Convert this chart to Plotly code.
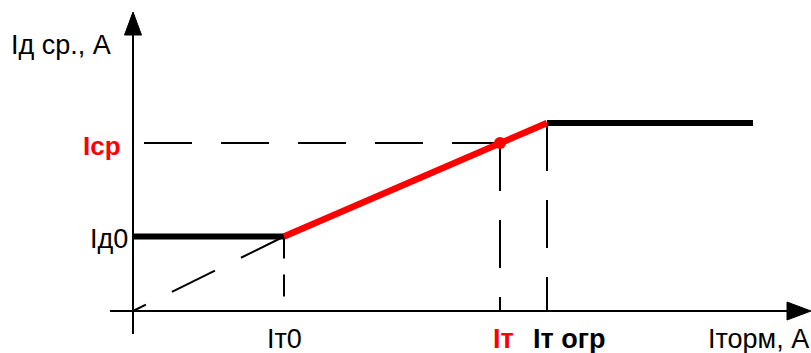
import plotly.graph_objects as go

# ---- characteristic values (schematic units) ----
I_T0 = 1.51      # Iт0 (start of slope)
I_D0 = 0.745     # Iд0 (initial pickup)
I_T = 3.67       # Iт (operating point)
I_CP = 1.68      # Iср (pickup at Iт)
I_T_OGR = 4.14   # Iт огр (end of slope)
I_OGR = 1.88     # pickup level after Iт огр
X_END = 6.20     # end of drawn characteristic

# axes extents
X_AX_MIN, X_AX_TIP = -0.23, 6.78
Y_AX_MIN, Y_AX_TIP = -0.23, 2.99
ARROW_LEN_X, ARROW_HALF_X = 0.24, 0.09
ARROW_LEN_Y, ARROW_HALF_Y = 0.23, 0.085

# labels
Y_TITLE = "Iд ср., A"
X_TITLE = "Iторм, A"
LBL_CP = "Iср"
LBL_D0 = "Iд0"
LBL_T0 = "Iт0"
LBL_T = "Iт"
LBL_TOGR = "Iт огр"

FONT = "Arial, 'Liberation Sans', sans-serif"
RED = "#FF0000"
BLACK = "#000000"

fig = go.Figure()

def line(xs, ys, color=BLACK, width=2, dash="solid"):
    fig.add_trace(go.Scatter(x=xs, y=ys, mode="lines",
                             line=dict(color=color, width=width, dash=dash),
                             hoverinfo="skip"))

# axes
line([X_AX_MIN, X_AX_TIP - ARROW_LEN_X], [0, 0], width=2)
line([0, 0], [Y_AX_MIN, Y_AX_TIP - ARROW_LEN_Y], width=2)
fig.add_trace(go.Scatter(
    x=[X_AX_TIP, X_AX_TIP - ARROW_LEN_X, X_AX_TIP - ARROW_LEN_X, X_AX_TIP],
    y=[0, ARROW_HALF_X, -ARROW_HALF_X, 0],
    mode="lines", fill="toself", fillcolor=BLACK, line=dict(color=BLACK, width=1),
    hoverinfo="skip"))
fig.add_trace(go.Scatter(
    x=[0, -ARROW_HALF_Y, ARROW_HALF_Y, 0],
    y=[Y_AX_TIP, Y_AX_TIP - ARROW_LEN_Y, Y_AX_TIP - ARROW_LEN_Y, Y_AX_TIP],
    mode="lines", fill="toself", fillcolor=BLACK, line=dict(color=BLACK, width=1),
    hoverinfo="skip"))

# dashed construction lines
DASH = "48px,29px"
line([I_T, 0], [I_CP, I_CP], dash=DASH)
line([I_T, I_T], [I_CP, 0], dash=DASH)
line([I_T_OGR, I_T_OGR], [I_OGR, 0], dash=DASH)
line([I_T0, I_T0], [I_D0, 0], dash="22px,16px")
line([I_T0, 0], [I_D0, 0], dash=DASH)

# characteristic
line([0, I_T0], [I_D0, I_D0], color=BLACK, width=6)
line([I_T_OGR, X_END], [I_OGR, I_OGR], color=BLACK, width=6)
line([I_T0, I_T_OGR], [I_D0, I_OGR], color=RED, width=6.5)
fig.add_trace(go.Scatter(x=[I_T], y=[I_CP], mode="markers",
                         marker=dict(color=RED, size=12), hoverinfo="skip"))

def text(x, y, s, color=BLACK, bold=False, xanchor="center", size=27):
    fig.add_annotation(x=x, y=y, text=f"<b>{s}</b>" if bold else s,
                       showarrow=False, xanchor=xanchor, yanchor="middle",
                       font=dict(family=FONT, size=size, color=color))

LBL_Y = -0.275
text(-1.24, 2.665, Y_TITLE, xanchor="left")
text(-0.10, I_CP - 0.025, LBL_CP, color=RED, bold=True, xanchor="right", size=26)
text(-0.03, I_D0 - 0.02, LBL_D0, xanchor="right")
text(I_T0, LBL_Y, LBL_T0)
text(I_T + 0.03, LBL_Y, LBL_T, color=RED, bold=True)
text(I_T_OGR - 0.16, LBL_Y, LBL_TOGR, bold=True, xanchor="left")
text(X_AX_TIP, LBL_Y, X_TITLE, xanchor="right")

fig.update_layout(
    width=811, height=353,
    margin=dict(l=0, r=0, t=0, b=0, pad=0),
    paper_bgcolor="white", plot_bgcolor="white",
    showlegend=False,
    xaxis=dict(visible=False, range=[-1.33, 6.78], fixedrange=True),
    yaxis=dict(visible=False, range=[-0.42, 3.11], fixedrange=True),
)

fig.write_html("out.html", config={"displayModeBar": False})
